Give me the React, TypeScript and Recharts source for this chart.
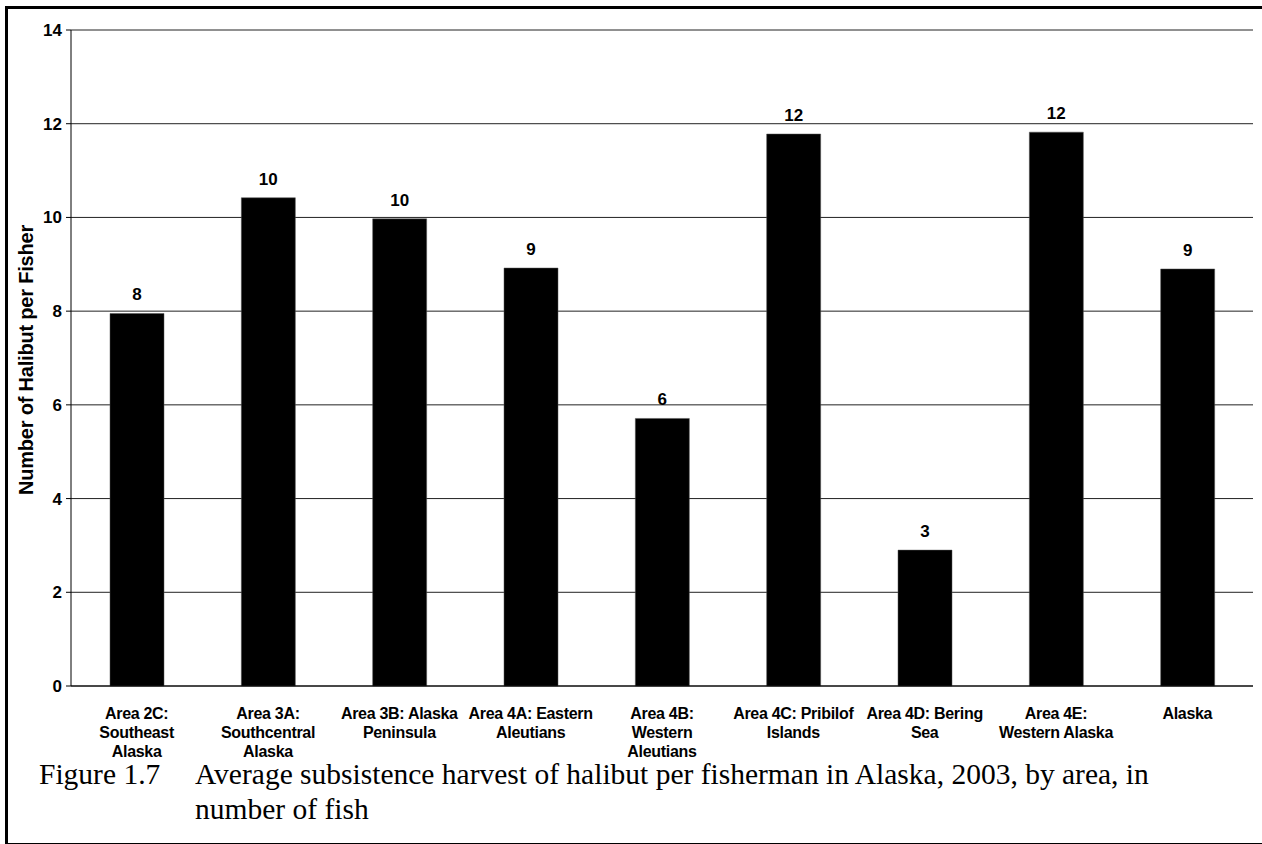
import {
  BarChart,
  Bar,
  XAxis,
  YAxis,
  CartesianGrid,
  LabelList,
} from "recharts";

const categories = [
  "Area 2C: Southeast Alaska",
  "Area 3A: Southcentral Alaska",
  "Area 3B: Alaska Peninsula",
  "Area 4A: Eastern Aleutians",
  "Area 4B: Western Aleutians",
  "Area 4C: Pribilof Islands",
  "Area 4D: Bering Sea",
  "Area 4E: Western Alaska",
  "Alaska",
];

const tickLines = [
  ["Area 2C:", "Southeast", "Alaska"],
  ["Area 3A:", "Southcentral", "Alaska"],
  ["Area 3B: Alaska", "Peninsula"],
  ["Area 4A: Eastern", "Aleutians"],
  ["Area 4B:", "Western", "Aleutians"],
  ["Area 4C: Pribilof", "Islands"],
  ["Area 4D: Bering", "Sea"],
  ["Area 4E:", "Western Alaska"],
  ["Alaska"],
];

const harvest = [7.95, 10.42, 9.97, 8.92, 5.71, 11.78, 2.9, 11.82, 8.9];

const yTicks = [0, 2, 4, 6, 8, 10, 12, 14];
const edgeTicks = [0, 1, 2, 3, 4, 5, 6, 7, 8, 9];

const yTitle = "Number of Halibut per Fisher";
const captionLabel = "Figure 1.7";
const captionLine1 =
  "Average subsistence harvest of halibut per fisherman in Alaska, 2003, by area, in";
const captionLine2 = "number of fish";

const data = categories.map((name, i) => ({ name, value: harvest[i] }));

const SANS = "'Liberation Sans', Arial, sans-serif";
const SERIF = "'Liberation Serif', 'Times New Roman', serif";

const CategoryTick = (props: any) => {
  const { x, y, payload } = props;
  const lines = tickLines[categories.indexOf(payload.value)] || [];
  return (
    <text
      x={x}
      y={y}
      textAnchor="middle"
      fontFamily={SANS}
      fontSize={16}
      fontWeight="bold"
      letterSpacing={-0.3}
      fill="#000"
    >
      {lines.map((line, k) => (
        <tspan key={k} x={x} dy={k === 0 ? 33 : 19}>
          {line}
        </tspan>
      ))}
    </text>
  );
};

const YTitle = (props: any) => {
  const vb = props.viewBox || { x: 11, y: 30, height: 656 };
  const cx = vb.x + 22;
  const cy = vb.y + vb.height / 2 + 2;
  return (
    <text
      x={cx}
      y={cy}
      transform={`rotate(-90 ${cx} ${cy})`}
      textAnchor="middle"
      fontFamily={SANS}
      fontSize={20}
      fontWeight="bold"
      letterSpacing={-0.2}
      fill="#000"
    >
      {yTitle}
    </text>
  );
};

export default function App() {
  return (
    <div
      style={{
        position: "absolute",
        left: 0,
        top: 0,
        width: 1262,
        height: 844,
        background: "#fff",
        overflow: "hidden",
      }}
    >
      <BarChart
        width={1262}
        height={844}
        data={data}
        margin={{ top: 30, right: 9, bottom: 98, left: 11 }}
      >
        <CartesianGrid
          vertical={false}
          stroke="#222"
          yAxisId="l"
          xAxisId="cat"
        />
        <XAxis
          xAxisId="edge"
          type="number"
          domain={[0, 9]}
          ticks={edgeTicks}
          allowDataOverflow
          height={0}
          tick={false}
          tickSize={5}
          tickLine={{ stroke: "#000" }}
          axisLine={false}
        />
        <XAxis
          xAxisId="cat"
          dataKey="name"
          interval={0}
          height={60}
          tickSize={0}
          tickMargin={0}
          tickLine={false}
          axisLine={{ stroke: "#000" }}
          tick={<CategoryTick />}
        />
        <YAxis
          yAxisId="l"
          domain={[0, 14]}
          ticks={yTicks}
          width={60}
          tickSize={5}
          tickMargin={4}
          axisLine={{ stroke: "#000" }}
          tickLine={{ stroke: "#000" }}
          tick={{
            fill: "#000",
            fontSize: 17,
            fontWeight: "bold",
            fontFamily: SANS,
          }}
          label={<YTitle />}
        />
        <YAxis
          yAxisId="r"
          orientation="right"
          domain={[0, 14]}
          width={0}
          tick={false}
          tickLine={false}
          axisLine={{ stroke: "#808080" }}
        />
        <Bar
          dataKey="value"
          xAxisId="cat"
          yAxisId="l"
          barSize={54}
          fill="#000"
          stroke="#555"
          strokeWidth={0.5}
          isAnimationActive={false}
        >
          <LabelList
            dataKey="value"
            position="top"
            offset={13}
            formatter={(v: any) => Math.round(Number(v))}
            style={{
              fill: "#000",
              fontSize: 17,
              fontWeight: "bold",
              fontFamily: SANS,
            }}
          />
        </Bar>
      </BarChart>

      <svg
        width={1262}
        height={844}
        style={{ position: "absolute", left: 0, top: 0, pointerEvents: "none" }}
      >
        <g fontFamily={SERIF} fontSize={29.5} fill="#000">
          <text x={39} y={784}>
            {captionLabel}
          </text>
          <text x={195} y={784}>
            {captionLine1}
          </text>
          <text x={195} y={819}>
            {captionLine2}
          </text>
        </g>
      </svg>

      <div
        style={{
          position: "absolute",
          left: 5,
          top: 6,
          width: 1270,
          height: 834,
          borderTop: "3px solid #000",
          borderLeft: "3px solid #000",
          borderBottom: "3px solid #000",
          pointerEvents: "none",
        }}
      />
    </div>
  );
}
